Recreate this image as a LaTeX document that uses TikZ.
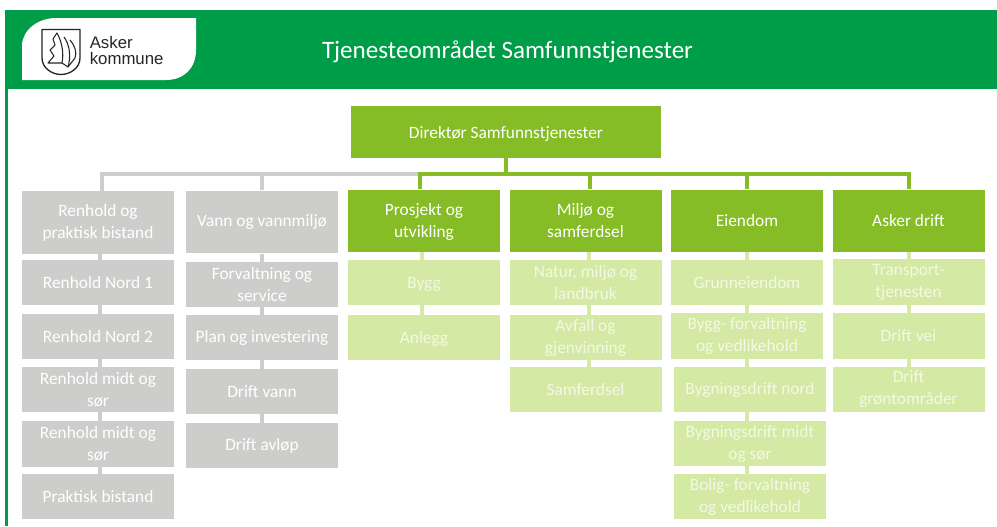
\documentclass[tikz,border=0pt]{standalone}
\usepackage{fontspec}
\setmainfont{Carlito}
\newfontfamily\logofont{Liberation Sans}
\definecolor{headgreen}{RGB}{0,157,72}
\definecolor{boxgreen}{RGB}{134,188,37}
\definecolor{boxlight}{RGB}{211,233,164}
\definecolor{boxgrey}{RGB}{205,205,203}
\definecolor{textlight}{RGB}{243,249,228}
\tikzset{
  mainbox/.style={fill=boxgreen, text=white, minimum width=114pt, minimum height=46.5pt, inner sep=0pt, text depth=0pt, align=center, font=\fontsize{13}{16.5}\selectfont},
  lightbox/.style={fill=boxlight, text=textlight, minimum width=114pt, minimum height=34pt, inner sep=0pt, align=center, font=\fontsize{13}{16.5}\selectfont},
  greybox/.style={fill=boxgrey, text=white, minimum width=114pt, minimum height=34pt, inner sep=0pt, align=center, font=\fontsize{13}{16.5}\selectfont},
  greenline/.style={draw=boxgreen, line width=3pt},
  lightline/.style={draw=boxlight, line width=3pt},
  greyline/.style={draw=boxgrey, line width=3pt},
  logoline/.style={draw=black!85, line width=0.8pt, line join=round}
}
\begin{document}
\begin{tikzpicture}[x=0.75pt, y=-0.75pt]
    \useasboundingbox (0,0) rectangle (997,526);
    \fill[headgreen] (5,10) rectangle (997,89);
    \fill[headgreen] (5,89) rectangle (8,526);
    \fill[white] (22,80) -- (22,46) .. controls (22,30) and (38,18) .. (56,18) -- (196,18) -- (196,50) .. controls (196,68) and (184,80) .. (166,80) -- cycle;

    \draw[logoline, line width=1pt] (42,29.5) -- (80,29.5) -- (80,58) .. controls (80,68) and (70,74.5) .. (61,74.5) .. controls (52,74.5) and (42,68) .. (42,58) -- cycle;
    \draw[logoline] (57,33) .. controls (62,42) and (64,53) .. (62,63) -- (48,63) -- (54,56) -- (50,50) -- (55,45) -- (53,39) -- cycle;
    \draw[logoline] (64,37) .. controls (70,45) and (71,57) .. (68,67) -- (62,63);
    \draw[logoline] (70,40) .. controls (75,46) and (77,52) .. (75,58) -- (68,67);

    \node (asker) [text=black!85, anchor=west, inner sep=0pt, align=left, font=\logofont\fontsize{12.6}{12}\selectfont] at (89.5,50) {Asker\\kommune};
    \node (title) [text=white, font=\fontsize{18.8}{20}\selectfont] at (507.5,52) {Tjenesteområdet Samfunnstjenester};

    \node (direktor) [mainbox, minimum width=232.5pt, minimum height=39pt] at (506,132) {Direktør Samfunnstjenester};

    \node (renhold) [greybox, minimum height=47pt] at (98,222.5) {Renhold og\\praktisk bistand};
    \node (nord1) [greybox] at (98,282.5) {Renhold Nord 1};
    \node (nord2) [greybox] at (98,336.5) {Renhold Nord 2};
    \node (midt1) [greybox] at (98,389.5) {Renhold midt og\\sør};
    \node (midt2) [greybox] at (98,444) {Renhold midt og\\sør};
    \node (praktisk) [greybox] at (98,496.5) {Praktisk bistand};

    \node (vann) [greybox, minimum height=47pt] at (262,222) {Vann og vannmiljø};
    \node (forvaltning) [greybox] at (262,284.5) {Forvaltning og\\service};
    \node (plan) [greybox] at (262,337.5) {Plan og investering};
    \node (driftvann) [greybox] at (262,391.5) {Drift vann};
    \node (avlop) [greybox] at (262,445.5) {Drift avløp};

    \node (prosjekt) [mainbox] at (424,220.5) {Prosjekt og\\utvikling};
    \node (bygg) [lightbox, text depth=0pt] at (424,282.5) {Bygg};
    \node (anlegg) [lightbox, text depth=0pt] at (424,337.5) {Anlegg};

    \node (miljo) [mainbox] at (585.5,220.5) {Miljø og\\samferdsel};
    \node (natur) [lightbox] at (585.5,282.5) {Natur, miljø og\\landbruk};
    \node (avfall) [lightbox] at (585.5,337.5) {Avfall og\\gjenvinning};
    \node (samferdsel) [lightbox] at (585.5,389.5) {Samferdsel};

    \node (eiendom) [mainbox] at (747,220.5) {Eiendom};
    \node (grunn) [lightbox] at (747,282.5) {Grunneiendom};
    \node (byggforv) [lightbox] at (747,336) {Bygg- forvaltning\\og vedlikehold};
    \node (drnord) [lightbox] at (750,389.5) {Bygningsdrift nord};
    \node (drmidt) [lightbox] at (750,443.5) {Bygningsdrift midt\\og sør};
    \node (bolig) [lightbox] at (750,496.5) {Bolig- forvaltning\\og vedlikehold};

    \node (drift) [mainbox] at (908.5,220.5) {Asker drift};
    \node (transport) [lightbox] at (908.5,282) {Transport-\\tjenesten};
    \node (driftvei) [lightbox] at (908.5,336) {Drift vei};
    \node (gront) [lightbox] at (908.5,389.5) {Drift\\grøntområder};

    \coordinate (bus) at (506,174);

    \draw[greyline] ([xshift=3pt]renhold.north) |- (bus -| prosjekt.north);
    \draw[greyline] (vann.north) -- (vann.north |- bus);
    \draw[greenline] (direktor.south) -- (bus);
    \draw[greenline] ([xshift=-3pt]prosjekt.north) |- (bus);
    \draw[greenline] ([xshift=3pt]miljo.north) |- (bus);
    \draw[greenline] (eiendom.north) |- (bus);
    \draw[greenline] (drift.north) |- (bus);

    \draw[greyline] ([xshift=1.5pt]renhold.south) -- ([xshift=1.5pt]nord1.north);
    \draw[greyline] ([xshift=1.5pt]nord1.south) -- ([xshift=1.5pt]nord2.north);
    \draw[greyline] ([xshift=1.5pt]nord2.south) -- ([xshift=1.5pt]midt1.north);
    \draw[greyline] ([xshift=1.5pt]midt1.south) -- ([xshift=1.5pt]midt2.north);
    \draw[greyline] ([xshift=1.5pt]midt2.south) -- ([xshift=1.5pt]praktisk.north);

    \draw[greyline] (vann) -- (forvaltning);
    \draw[greyline] (forvaltning) -- (plan);
    \draw[greyline] (plan) -- (driftvann);
    \draw[greyline] (driftvann) -- (avlop);

    \draw[lightline] ([xshift=-1.5pt]prosjekt.south) -- ([xshift=-1.5pt]bygg.north);
    \draw[lightline] ([xshift=-1.5pt]bygg.south) -- ([xshift=-1.5pt]anlegg.north);

    \draw[lightline] ([xshift=2.5pt]miljo.south) -- ([xshift=2.5pt]natur.north);
    \draw[lightline] ([xshift=2.5pt]natur.south) -- ([xshift=2.5pt]avfall.north);
    \draw[lightline] ([xshift=2.5pt]avfall.south) -- ([xshift=2.5pt]samferdsel.north);

    \draw[lightline] (eiendom) -- (grunn);
    \draw[lightline] (grunn) -- (byggforv);
    \draw[lightline] (byggforv.south) -- ([xshift=-2.25pt]drnord.north);
    \draw[lightline] ([xshift=-2.25pt]drnord.south) -- ([xshift=-2.25pt]drmidt.north);
    \draw[lightline] ([xshift=-2.25pt]drmidt.south) -- ([xshift=-2.25pt]bolig.north);

    \draw[lightline] (drift) -- (transport);
    \draw[lightline] (transport) -- (driftvei);
    \draw[lightline] (driftvei) -- (gront);
\end{tikzpicture}
\end{document}
